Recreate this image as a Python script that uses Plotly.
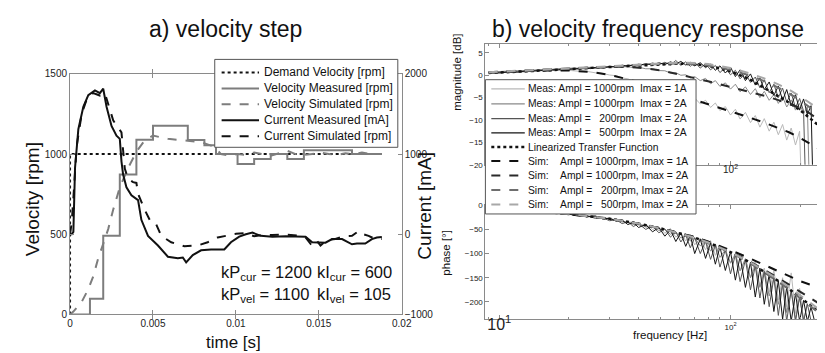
import plotly.graph_objects as go

W, H = 825, 353

# ---------------- a) velocity step data ----------------
t_demand = [0, 0, 0.0188]
v_demand = [0, 1000, 1000]

t_vel_meas = [0, 0.0012, 0.0020, 0.0030, 0.0040, 0.0050, 0.0071, 0.0081, 0.0088, 0.0101,
              0.0111, 0.0121, 0.0131, 0.0141, 0.0170, 0.0188]
v_vel_meas = [0, 97, 490, 873, 1089, 1176, 1087, 1055, 1000, 938,
              969, 1000, 969, 1024, 1000, 1000]

t_vel_sim = [0, 0.0002, 0.0007, 0.0011, 0.0014, 0.0017, 0.0020, 0.0023, 0.0026, 0.0030,
             0.0035, 0.0040, 0.0045, 0.0050, 0.0059, 0.0070, 0.0079, 0.0087, 0.0091, 0.0096,
             0.0101, 0.0106, 0.0111, 0.0116, 0.0121, 0.0126, 0.0131, 0.0136, 0.0141, 0.0146,
             0.0151, 0.0156, 0.0161, 0.0166, 0.0171, 0.0176, 0.0181, 0.0188]
v_vel_sim = [0, 18, 78, 157, 238, 351, 440, 532, 653, 792,
             913, 1014, 1085, 1115, 1095, 1085, 1075, 1045, 1000, 990,
             1000, 995, 1010, 1000, 990, 1005, 1020, 1000, 995, 1000,
             1010, 1000, 995, 1005, 1000, 1010, 1000, 1000]

t_cur_meas = [0, 0.0001, 0.0002, 0.0003, 0.0005, 0.0008, 0.0011, 0.0015, 0.0018, 0.0020,
              0.0022, 0.0025, 0.0028, 0.0030, 0.0031, 0.0032, 0.0034, 0.0037, 0.0041, 0.0043,
              0.0047, 0.0053, 0.0059, 0.0065, 0.0068, 0.0070, 0.0074, 0.0079, 0.0085, 0.0093,
              0.0097, 0.0102, 0.0106, 0.0110, 0.0115, 0.0122, 0.0130, 0.0137, 0.0142, 0.0146,
              0.0154, 0.0158, 0.0164, 0.0170, 0.0173, 0.0178, 0.0182, 0.0185, 0.0188]
i_cur_meas = [0, 0, 30, 830, 1310, 1590, 1735, 1795, 1760, 1815,
              1590, 1350, 1230, 1190, 910, 745, 585, 485, 425, 180,
              -20, -140, -280, -300, -290, -350, -260, -200, -190, -190,
              -100, -30, 0, 20, -20, -30, -25, -30, -30, -100,
              -105, -60, -60, -125, -115, -115, -60, -40, -35]

t_cur_sim = [0, 0.0001, 0.0002, 0.0004, 0.0007, 0.0010, 0.0014, 0.0018, 0.0021, 0.0023,
             0.0026, 0.0029, 0.0031, 0.0033, 0.0035, 0.0038, 0.0040, 0.0041, 0.0045, 0.0049,
             0.0052, 0.0055, 0.0061, 0.0069, 0.0077, 0.0083, 0.0089, 0.0094, 0.0100, 0.0106,
             0.0111, 0.0117, 0.0122, 0.0130, 0.0137, 0.0142, 0.0145, 0.0148, 0.0151, 0.0155,
             0.0160, 0.0165, 0.0170, 0.0174, 0.0177, 0.0180, 0.0184, 0.0188]
i_cur_sim = [0, 150, 450, 1100, 1500, 1680, 1760, 1730, 1760, 1620,
             1420, 1330, 1270, 820, 690, 650, 640, 505, 305, 140,
             120, -20, -100, -150, -140, -100, -40, -20, 5, 15,
             -25, -5, -10, -5, -15, -40, -120, -60, -140, -70,
             -60, -25, -20, 40, 0, -20, -60, -60]

time_ticks = [0, 0.005, 0.01, 0.015, 0.02]
time_ticklabels = ["0", "0.005", "0.01", "0.015", "0.02"]
vel_ticks = [0, 500, 1000, 1500]
cur_ticks = [-1000, 0, 1000, 2000]

legend_a = ["Demand Velocity [rpm]", "Velocity Measured [rpm]", "Velocity Simulated [rpm]",
            "Current Measured [mA]", "Current Simulated [rpm]"]

# ---------------- b) frequency response data ----------------
freq_meas = [9, 10, 11, 12, 13, 14, 15, 16, 17, 18,
             19, 20, 22, 24, 26, 28, 30, 32, 34, 36,
             38, 40, 43, 46, 49, 52, 55, 58, 61, 64,
             67, 70, 74, 78, 82, 86, 90, 95, 100, 105,
             110, 116, 122, 128, 134, 140, 147, 154, 161, 168,
             175, 183, 191, 199, 207, 215, 223, 231, 240]

mag_1000_1A = [0.6, 0.75, 0.75, 0.95, 0.9, 1.05, 1.0, 1.15, 1.05, 1.15,
               1.05, 1.1, 0.9, 0.85, 0.55, 0.4, 0.05, -0.1, -0.6, -0.8,
               -1.3, -1.5, -2.2, -2.5, -3.2, -3.3, -4.1, -4.0, -4.9, -4.6,
               -5.6, -5.1, -6.4, -5.6, -7.2, -6.2, -7.9, -7.0, -8.9, -7.6,
               -9.8, -8.3, -10.6, -9.0, -11.6, -9.7, -12.5, -10.5, -13.3, -11.0,
               -14.5, -11.8, -15.6, -12.5, -40]
mag_1000_2A = [0.7, 0.85, 0.9, 1.05, 1.05, 1.2, 1.2, 1.35, 1.35, 1.5,
               1.45, 1.6, 1.6, 1.8, 1.7, 1.9, 1.85, 1.95, 1.85, 1.95,
               1.7, 1.8, 1.45, 1.45, 1.05, 1.0, 0.5, 0.55, 0.0, 0.1,
               -0.6, -0.3, -1.2, -0.7, -1.9, -1.2, -2.5, -1.7, -3.1, -2.0,
               -3.7, -2.6, -4.3, -3.0, -5.0, -3.6, -5.6, -4.3, -6.3, -4.8,
               -7.1, -5.5, -7.8, -6.3, -8.6, -7.0, -40]
mag_200_2A = [0.6, 0.7, 0.65, 0.85, 0.8, 1.05, 1.0, 1.2, 1.1, 1.3,
              1.25, 1.45, 1.4, 1.65, 1.55, 1.85, 1.75, 2.1, 1.9, 2.3,
              2.1, 2.5, 2.25, 2.75, 2.35, 2.9, 2.3, 3.3, 2.2, 3.0,
              2.0, 2.9, 1.6, 2.6, 1.2, 2.2, 0.6, 1.7, 0.1, 1.1,
              -0.8, 0.4, -1.6, -0.4, -2.8, -1.0, -3.9, -2.0, -5.0, -2.9,
              -6.0, -4.0, -7.2, -5.2, -8.0, -40]
mag_500_2A = [0.55, 0.5, 0.75, 0.7, 0.95, 0.9, 1.1, 1.0, 1.25, 1.2,
              1.4, 1.3, 1.5, 1.45, 1.75, 1.6, 2.0, 1.8, 2.25, 2.0,
              2.4, 2.15, 2.6, 2.3, 2.8, 2.4, 3.0, 2.5, 3.1, 2.3,
              2.9, 2.1, 2.8, 1.7, 2.5, 1.1, 2.1, 0.5, 1.8, -0.3,
              1.2, -1.2, 0.3, -2.2, -0.6, -3.2, -1.5, -4.5, -2.4, -5.6,
              -3.2, -6.8, -4.3, -7.8, -5.3, -8.8, -6.8, -40]

ph_1000_1A = [-7, -7, -9, -10, -10, -12, -13, -14, -16, -16,
              -18, -17, -20, -22, -23, -26, -27, -30, -32, -36,
              -34, -42, -39, -50, -45, -58, -48, -66, -56, -74,
              -60, -82, -68, -92, -73, -104, -83, -96, -118, -100,
              -134, -110, -150, -115, -168, -130, -180, -135, -196, -150,
              -210, -140, -224, -172, -236]
ph_1000_2A = [-6, -8, -9, -10, -11, -12, -14, -15, -15, -17,
              -18, -18, -21, -23, -24, -28, -28, -31, -34, -34,
              -40, -38, -45, -44, -52, -50, -60, -55, -68, -61,
              -74, -68, -84, -75, -95, -80, -108, -92, -120, -102,
              -136, -112, -150, -125, -170, -137, -188, -150, -205, -163,
              -222, -176, -236, -190, -240, -204]
ph_200_2A = [-7, -8, -10, -10, -12, -12, -14, -14, -17, -16,
             -19, -18, -23, -22, -27, -26, -32, -30, -38, -34,
             -44, -38, -50, -43, -57, -49, -66, -55, -76, -61,
             -88, -67, -100, -75, -112, -83, -128, -92, -142, -102,
             -158, -113, -175, -125, -192, -137, -210, -150, -228, -163,
             -240, -176, -240, -190, -240, -204, -240]
ph_500_2A = [-7, -8, -9, -11, -11, -13, -13, -15, -15, -17,
             -17, -19, -20, -24, -22, -28, -27, -33, -31, -40,
             -35, -46, -40, -55, -46, -64, -51, -75, -57, -85,
             -63, -100, -70, -110, -78, -122, -86, -135, -96, -155,
             -106, -170, -118, -190, -130, -205, -143, -220, -156, -236,
             -169, -240, -183, -240, -197, -240, -211, -240]

freq_sim = [9, 10, 12, 15, 20, 25, 30, 35, 40, 50, 60, 70, 80, 90, 100,
            120, 140, 160, 180, 200, 220, 240, 252]
mag_lin = [0.5, 0.6, 0.8, 1.05, 1.35, 1.65, 1.85, 2.05, 2.25, 2.5, 2.6, 2.45, 2.1, 1.55, 0.85,
           -0.8, -2.8, -4.5, -6.2, -7.8, -9.5, -11.2, -12.2]
mag_sim_1000_1A = [0.6, 0.7, 0.9, 1.05, 1.05, 0.75, 0.1, -0.7, -1.5, -3.1, -4.4, -5.5, -6.4, -7.2, -8.0,
                   -9.4, -10.6, -11.7, -12.8, -14.0, -15.2, -16.4, -17.1]
mag_sim_1000_2A = [0.7, 0.8, 1.0, 1.25, 1.55, 1.75, 1.9, 1.9, 1.7, 1.1, 0.2, -0.6, -1.35, -2.0, -2.6,
                   -3.7, -4.6, -5.5, -6.4, -7.3, -8.5, -9.9, -10.8]
mag_sim_200_2A = [0.6, 0.7, 0.9, 1.1, 1.4, 1.7, 1.9, 2.1, 2.3, 2.55, 2.65, 2.5, 2.2, 1.75, 1.2,
                  0.0, -1.3, -2.7, -4.1, -5.6, -7.1, -8.6, -9.5]
mag_sim_500_2A = [0.7, 0.8, 1.0, 1.2, 1.5, 1.8, 2.0, 2.2, 2.4, 2.65, 2.8, 2.75, 2.5, 2.1, 1.6,
                  0.5, -0.7, -2.0, -3.3, -4.7, -6.1, -7.5, -8.3]
ph_lin = [-7, -8, -10, -13, -18, -23, -28, -33, -38, -48, -58, -67, -77, -87, -97,
          -117, -137, -156, -174, -190, -206, -220, -228]
ph_sim_1000_1A = [-7, -8, -10, -13, -18, -23, -28, -33, -38, -48, -57, -66, -75, -84, -93,
                  -109, -124, -137, -148, -157, -164, -169, -172]
ph_sim_1000_2A = [-7, -8, -10, -13, -18, -23, -28, -33, -38, -48, -57, -66, -76, -86, -96,
                  -115, -133, -150, -165, -179, -192, -203, -209]
ph_sim_200_2A = [-7, -8, -10, -13, -18, -23, -28, -33, -38, -48, -58, -68, -78, -88, -98,
                 -118, -138, -157, -175, -192, -208, -222, -230]
ph_sim_500_2A = [-7, -8, -10, -13, -18, -23, -28, -33, -38, -48, -58, -67, -77, -87, -97,
                 -116, -135, -153, -170, -186, -201, -215, -222]

mag_ticks = [-20, -15, -10, -5, 0, 5]
phase_ticks = [-200, -150, -100, -50, 0]
freq_ticks = [10, 100]
freq_minor = [9, 20, 30, 40, 50, 60, 70, 80, 90, 200]

NB = '\u00a0'
legend_b = [
    'Meas: Ampl = 1000rpm' + NB * 2 + 'Imax = 1A',
    'Meas: Ampl = 1000rpm' + NB * 2 + 'Imax = 2A',
    'Meas: Ampl = ' + NB * 2 + '200rpm' + NB * 2 + 'Imax = 2A',
    'Meas: Ampl = ' + NB * 2 + '500rpm' + NB * 2 + 'Imax = 2A',
    'Linearized Transfer Function',
    'Sim:' + NB * 4 + 'Ampl = 1000rpm, Imax = 1A',
    'Sim:' + NB * 4 + 'Ampl = 1000rpm, Imax = 2A',
    'Sim:' + NB * 4 + 'Ampl = ' + NB * 2 + '200rpm, Imax = 2A',
    'Sim:' + NB * 4 + 'Ampl = ' + NB * 2 + '500rpm, Imax = 2A',
]

# ---------------- figure ----------------
def X(p):
    return p / W

def Y(p):
    return 1 - p / H

fig = go.Figure()

def add_line(x, y, color, width, dash=None, xa='x', ya='y', shape=None):
    line = dict(color=color, width=width)
    if dash:
        line['dash'] = dash
    if shape:
        line['shape'] = shape
    fig.add_trace(go.Scatter(x=x, y=y, mode='lines', line=line, xaxis=xa, yaxis=ya,
                             showlegend=False, hoverinfo='skip'))

GRAY = '#7d7d7d'
BLACK = '#111111'

# left plot
add_line(t_demand, v_demand, BLACK, 2, 'dot')
add_line(t_vel_meas, v_vel_meas, GRAY, 2, shape='hv')
add_line(t_vel_sim, v_vel_sim, GRAY, 2, 'dash')
add_line(t_cur_meas, i_cur_meas, BLACK, 2, ya='y2')
add_line(t_cur_sim, i_cur_sim, BLACK, 2, 'dash', ya='y2')

# right plots
C_1A, C_2A, C_200, C_500 = '#b8b8b8', '#8a8a8a', '#555555', '#141414'
meas_sets = [(mag_1000_1A, ph_1000_1A, C_1A), (mag_1000_2A, ph_1000_2A, C_2A),
             (mag_200_2A, ph_200_2A, C_200), (mag_500_2A, ph_500_2A, C_500)]
for mag, ph, col in meas_sets:
    add_line(freq_meas[:len(mag)], mag, col, 1, xa='x2', ya='y3')
    add_line(freq_meas[:len(ph)], ph, col, 1, xa='x3', ya='y4')

add_line(freq_sim, mag_lin, BLACK, 2.5, 'dot', xa='x2', ya='y3')
add_line(freq_sim, ph_lin, BLACK, 2.5, 'dot', xa='x3', ya='y4')
sim_sets = [(mag_sim_1000_1A, ph_sim_1000_1A, '#111111'), (mag_sim_1000_2A, ph_sim_1000_2A, '#2a2a2a'),
            (mag_sim_200_2A, ph_sim_200_2A, '#6e6e6e'), (mag_sim_500_2A, ph_sim_500_2A, '#a8a8a8')]
for mag, ph, col in sim_sets:
    add_line(freq_sim, mag, col, 2, 'dash', xa='x2', ya='y3')
    add_line(freq_sim, ph, col, 2, 'dash', xa='x3', ya='y4')

AX = '#8a8a8a'
TF = '#222222'
common = dict(showgrid=False, zeroline=False, showline=True, linecolor=AX, linewidth=1,
              ticks='inside', tickcolor=AX, ticklen=4)

fig.update_layout(
    width=W, height=H, margin=dict(l=0, r=0, t=0, b=0, pad=0),
    paper_bgcolor='white', plot_bgcolor='white', showlegend=False,
    font=dict(family='Liberation Sans, Arial, sans-serif', color='#111'),
    xaxis=dict(domain=[X(60), X(397)], range=[0, 0.02], tickvals=time_ticks, ticktext=time_ticklabels,
               mirror='allticks', anchor='y', tickfont=dict(size=10, color=TF), **common),
    yaxis=dict(domain=[Y(311), Y(62)], range=[0, 1500], tickvals=vel_ticks, anchor='x',
               tickfont=dict(size=10, color=TF), **common),
    yaxis2=dict(overlaying='y', side='right', range=[-1000, 2000], tickvals=cur_ticks, anchor='x',
                tickfont=dict(size=10, color=TF), **common),
    xaxis2=dict(domain=[X(482), 1], type='log', range=[0.94, 2.40], anchor='y3', tickvals=freq_ticks,
                showticklabels=False, mirror='allticks',
                minor=dict(tickvals=freq_minor, ticks='inside', ticklen=2, tickcolor=AX), **common),
    yaxis3=dict(domain=[Y(156), Y(31)], range=[-20, 7], tickvals=mag_ticks, anchor='x2',
                tickfont=dict(size=8, color=TF), **common),
    xaxis3=dict(domain=[X(482), 1], type='log', range=[0.94, 2.40], anchor='y4', tickvals=freq_ticks,
                ticktext=['<span style="font-size:16px">10<sup>1</sup></span>', '10<sup>2</sup>'],
                mirror='allticks', tickfont=dict(size=8, color=TF),
                minor=dict(tickvals=freq_minor, ticks='inside', ticklen=2, tickcolor=AX), **common),
    yaxis4=dict(domain=[Y(316), Y(198)], range=[-236, 0], tickvals=phase_ticks, anchor='x3',
                tickfont=dict(size=8, color=TF), **common),
)

shapes = []
annotations = []

def txt(text, x, y, size, xanchor='center', yanchor='middle', angle=0):
    annotations.append(dict(text=text, x=X(x), y=Y(y), xref='paper', yref='paper',
                            xanchor=xanchor, yanchor=yanchor, showarrow=False, textangle=angle,
                            font=dict(size=size, color='#111'), borderpad=0))

def hline(x0, x1, y, color, width, dash='solid'):
    shapes.append(dict(type='line', xref='paper', yref='paper', x0=X(x0), x1=X(x1), y0=Y(y), y1=Y(y),
                       line=dict(color=color, width=width, dash=dash), layer='above'))

def box(x0, y0, x1, y1):
    shapes.append(dict(type='rect', xref='paper', yref='paper', x0=X(x0), x1=X(x1), y0=Y(y1), y1=Y(y0),
                       line=dict(color='#555', width=1), fillcolor='white', layer='above'))

# titles
txt('a) velocity step', 218, 16, 23)
txt('b) velocity frequency response', 647, 16, 23)
txt('Velocity [rpm]', 22, 192, 19, angle=-90)
txt('Current [mA]', 420, 198, 19, angle=-90)
txt('time [s]', 226, 340, 17)
txt('magnitude [dB]', 453, 60, 11.5, angle=-90)
txt('phase [°]', 442, 247, 11.5, angle=-90)
txt('frequency [Hz]', 670, 332, 11.5)

# tick label of the magnitude axis at 10^2 (placed on the x2 axis scale)
annotations.append(dict(text='10<sup>2</sup>', x=2, xref='x2', y=Y(160), yref='paper',
                        xanchor='center', yanchor='middle', showarrow=False,
                        font=dict(size=10, color=TF), borderpad=0))

# gains text
txt('kP<sub>cur</sub> = 1200', 212, 268, 16.5, xanchor='left')
txt('kI<sub>cur</sub> = 600', 310, 268, 16.5, xanchor='left')
txt('kP<sub>vel</sub> = 1100', 212, 291, 16.5, xanchor='left')
txt('kI<sub>vel</sub> = 105', 310, 291, 16.5, xanchor='left')

# legend a
box(207, 47, 393, 138)
leg_a_styles = [(BLACK, 2, 'dot'), (GRAY, 2, 'solid'), (GRAY, 2, 'dash'), (BLACK, 2, 'solid'), (BLACK, 2, 'dash')]
leg_a_y = [60.5, 77, 93.5, 110, 126.5]
for (col, wd, ds), yy, lab in zip(leg_a_styles, leg_a_y, legend_a):
    hline(214, 252, yy, col, wd, ds)
    txt(lab, 256, yy, 12, xanchor='left')

# legend b
box(482, 68, 696, 207)
leg_b_y = [77.5, 93, 108.3, 123, 137.7, 152.3, 167.3, 182.3, 197.3]
leg_b_styles = [(C_1A, 1.2, 'solid'), (C_2A, 1.2, 'solid'), (C_200, 1.2, 'solid'), (C_500, 1.2, 'solid'),
                (BLACK, 2.5, 'dot'), ('#111111', 2, 'dash'), ('#2a2a2a', 2, 'dash'),
                ('#6e6e6e', 2, 'dash'), ('#a8a8a8', 2, 'dash')]
for (col, wd, ds), yy, lab in zip(leg_b_styles, leg_b_y, legend_b):
    hline(488, 522, yy, col, wd, ds)
    txt(lab, 524, yy, 10.3, xanchor='left')

fig.update_layout(shapes=shapes, annotations=annotations)
fig.write_html('out.html')
